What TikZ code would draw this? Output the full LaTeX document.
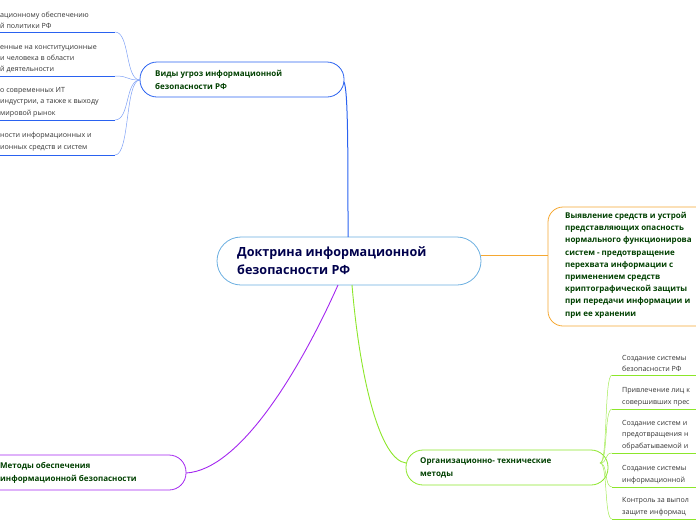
\documentclass[tikz,border=0pt]{standalone}
\usepackage{fontspec}
\setmainfont{Open Sans}
\definecolor{bb}{HTML}{2A62F0}
\definecolor{pp}{HTML}{A326F0}
\definecolor{gg}{HTML}{8CE62A}
\definecolor{oo}{HTML}{F5A832}
\definecolor{cc}{HTML}{6AAEE0}
\begin{document}
\begin{tikzpicture}[x=1pt,y=-1pt,
  leaf/.style={anchor=south west,font=\fontsize{7.1}{11.2}\selectfont,text=black!80,align=left,inner sep=0pt},
  mtext/.style={anchor=west,font=\bfseries\fontsize{8}{12.4}\selectfont,text=green!25!black,align=left,inner sep=0pt},
  bl/.style={draw=bb!60,line width=0.5pt},
  gl/.style={draw=gg!80,line width=0.5pt}]
\useasboundingbox (0,0) rectangle (696,520);
\clip (0,0) rectangle (696,520);
% central
\draw[draw=cc,line width=0.8pt,rounded corners=24pt] (217,237) rectangle (481,285);
\node[anchor=west,font=\bfseries\fontsize{12.6}{18}\selectfont,text=blue!30!black,align=left,inner sep=0pt] (c) at (237,261) {Доктрина информационной\\безопасности РФ};
\coordinate (ctop) at (348,237);
\coordinate (cbotL) at (338,285);
\coordinate (cbotR) at (352,285);
\coordinate (cright) at (481,255);
% blue branch
\draw[draw=bb,line width=0.8pt,rounded corners=17pt] (140,62) rectangle (344,97);
\node[mtext] (b) at (155,80) {Виды угроз информационной\\безопасности РФ};
\coordinate (bR) at (344,82);
\coordinate (bL) at (140,80);
\draw[draw=bb,line width=1pt] (ctop) .. controls (348,150) and (348,90) .. (bR);
\foreach \y in {32,76,120,155}{
  \coordinate (u\y) at (115,\y);
  \draw[draw=bb,line width=1pt] (0,\y) -- (u\y);
  \draw[bl] (bL) .. controls (125,80) and (130,\y) .. (u\y);
}
\node[leaf] (b1) at (0,29) {ационному обеспечению\\й политики РФ};
\node[leaf] (b2) at (0,73) {енные на конституционные\\и человека в области\\й деятельности};
\node[leaf] (b3) at (0,117) {о современных ИТ\\индустрии, а также к выходу\\ мировой рынок};
\node[leaf] (b4) at (0,151) {ности информационных и\\ионных средств и систем};
% orange
\draw[draw=oo,line width=0.8pt,rounded corners=15pt] (548,207) rectangle (720,326);
\node[mtext,anchor=north west,font=\bfseries\fontsize{8}{12.2}\selectfont] (o) at (565,212) {Выявление средств и устрой\\представляющих опасность\\нормального функционирова\\систем - предотвращение\\перехвата информации с\\применением средств\\криптографической защиты\\при передачи информации и\\при ее хранении};
\coordinate (oL) at (548,255);
\draw[draw=oo,line width=0.8pt] (cright) -- (oL);
% purple
\draw[draw=pp,line width=0.8pt,rounded corners=17pt] (-20,455) rectangle (186,490);
\node[mtext] (p) at (0,473) {Методы обеспечения\\информационной безопасности};
\coordinate (pR) at (186,473);
\draw[draw=pp,line width=0.9pt] (cbotL) .. controls (300,370) and (240,470) .. (pR);
% green
\draw[draw=gg,line width=0.8pt,rounded corners=17pt] (406,450) rectangle (608,485);
\node[mtext] (g) at (420,468) {Организационно- технические\\методы};
\coordinate (gL) at (406,463);
\coordinate (gR) at (600,463);
\draw[draw=gg,line width=0.9pt] (cbotR) .. controls (360,380) and (380,460) .. (gL);
\foreach \y in {375,409,453,487,519}{
  \coordinate (v\y) at (612,\y);
  \draw[draw=gg,line width=1pt] (v\y) -- (700,\y);
  \draw[gl] (gR) .. controls (608,463) and (604,\y) .. (v\y);
}
\node[leaf] (g1) at (622,372) {Создание системы\\безопасности РФ};
\node[leaf] (g2) at (622,406) {Привлечение лиц к\\совершивших прес};
\node[leaf] (g3) at (622,450) {Создание систем и\\предотвращения н\\обрабатываемой и};
\node[leaf] (g4) at (622,484) {Создание системы\\информационной};
\node[leaf] (g5) at (622,516) {Контроль  за выпол\\защите информац};
\end{tikzpicture}
\end{document}
